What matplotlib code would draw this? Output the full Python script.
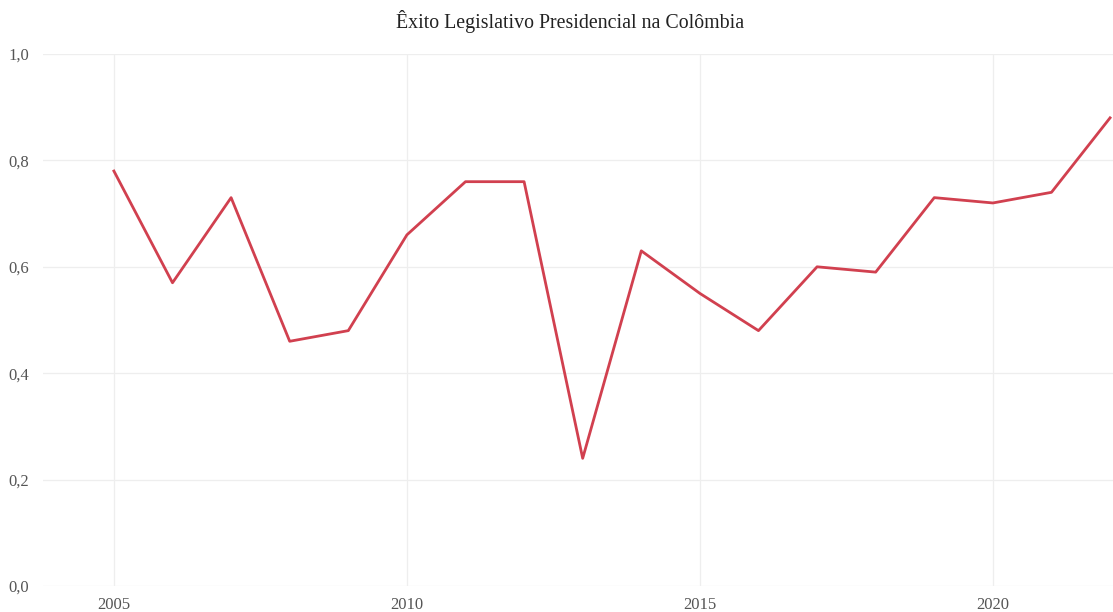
import matplotlib
matplotlib.use('Agg')
import matplotlib.pyplot as plt
from matplotlib.ticker import FuncFormatter

anos = [2005, 2006, 2007, 2008, 2009, 2010, 2011, 2012, 2013,
        2014, 2015, 2016, 2017, 2018, 2019, 2020, 2021, 2022]
exito = [0.78, 0.57, 0.73, 0.46, 0.48, 0.66, 0.76, 0.76, 0.24,
         0.63, 0.55, 0.48, 0.60, 0.59, 0.73, 0.72, 0.74, 0.88]
xticks = [2005, 2010, 2015, 2020]
yticks = [0.0, 0.2, 0.4, 0.6, 0.8, 1.0]

plt.rcParams['font.family'] = ['Liberation Serif', 'DejaVu Serif']

fig = plt.figure(figsize=(11.13, 6.12), dpi=100)
ax = fig.add_axes([43 / 1113, 1 - 586 / 612, 1 - 43 / 1113, (586 - 54) / 612])

ax.plot(anos, exito, color='#d1404f', linewidth=2, clip_on=False)

ax.set_xlim(2003.79, 2022.05)
ax.set_ylim(0, 1)
ax.set_xticks(xticks)
ax.set_yticks(yticks)
ax.yaxis.set_major_formatter(FuncFormatter(lambda v, p: ('%.1f' % v).replace('.', ',')))
ax.grid(True, color='#eeeeee', linewidth=0.9)
ax.set_axisbelow(True)
for s in ax.spines.values():
    s.set_visible(False)
ax.tick_params(length=0, labelsize=12, colors='#555555', pad=8)
ax.tick_params(axis='y', pad=10)

fig.text(570 / 1113, 0.965, 'Êxito Legislativo Presidencial na Colômbia',
         ha='center', va='center', fontsize=14.3, color='#222222')

plt.savefig('out.png', dpi=100)
plt.close()
